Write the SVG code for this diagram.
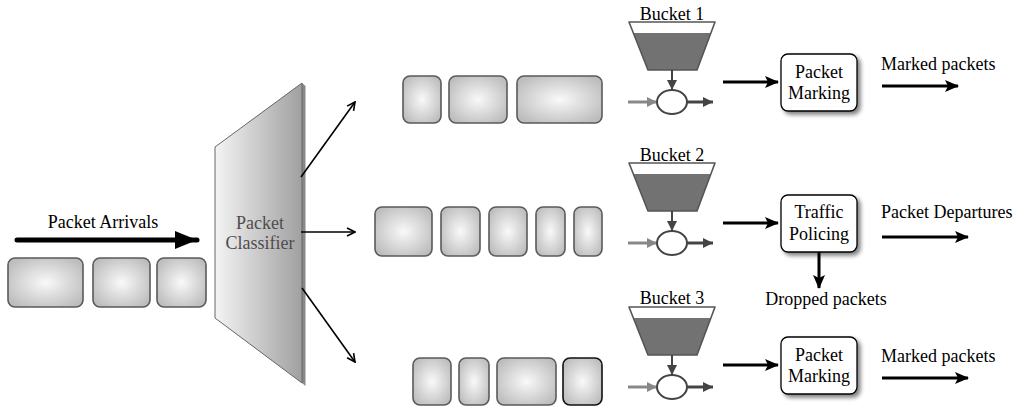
<svg xmlns="http://www.w3.org/2000/svg" width="1023" height="407" viewBox="0 0 1023 407">
<defs>
  <radialGradient id="pk" cx="0.5" cy="0.5" r="0.6">
    <stop offset="0" stop-color="#f9f9f9"/>
    <stop offset="1" stop-color="#bdbdbd"/>
  </radialGradient>
  <linearGradient id="cl" x1="0" y1="0" x2="1" y2="0">
    <stop offset="0" stop-color="#f4f4f4"/>
    <stop offset="1" stop-color="#a0a0a0"/>
  </linearGradient>
  <filter id="sh" x="-20%" y="-20%" width="150%" height="150%">
    <feGaussianBlur in="SourceAlpha" stdDeviation="2"/>
    <feOffset dx="3" dy="3" result="b"/>
    <feComponentTransfer><feFuncA type="linear" slope="0.5"/></feComponentTransfer>
    <feMerge><feMergeNode/><feMergeNode in="SourceGraphic"/></feMerge>
  </filter>
  <marker id="open" viewBox="0 0 10 10" refX="9" refY="5" markerWidth="10" markerHeight="10" markerUnits="userSpaceOnUse" orient="auto">
    <path d="M1,1 L9,5 L1,9" fill="none" stroke="#000" stroke-width="1.6"/>
  </marker>
  <marker id="solid" viewBox="0 0 14 12" refX="13" refY="6" markerWidth="14" markerHeight="12" markerUnits="userSpaceOnUse" orient="auto">
    <path d="M0,0 L14,6 L0,12 L3,6 Z" fill="#000"/>
  </marker>
  <marker id="big" viewBox="0 0 22 18" refX="22" refY="9" markerWidth="22" markerHeight="18" markerUnits="userSpaceOnUse" orient="auto">
    <path d="M0,0 L22,9 L0,18 Z" fill="#000"/>
  </marker>
  <marker id="sdk" viewBox="0 0 10 10" refX="10" refY="5" markerWidth="10" markerHeight="10" markerUnits="userSpaceOnUse" orient="auto">
    <path d="M0,0 L10,5 L0,10 Z" fill="#444"/>
  </marker>
  <marker id="sgr" viewBox="0 0 10 10" refX="10" refY="5" markerWidth="10" markerHeight="10" markerUnits="userSpaceOnUse" orient="auto">
    <path d="M0,0 L10,5 L0,10 Z" fill="#888"/>
  </marker>
  <g id="bucket">
    <polygon points="633.4,33 710.9,33 697,70 648,70" fill="#727272"/>
    <polygon points="629,22 648,70 697,70 715,22" fill="none" stroke="#555" stroke-width="1.6" stroke-linejoin="round"/>
    <line x1="672" y1="70" x2="672" y2="90" stroke="#444" stroke-width="2" marker-end="url(#sdk)"/>
    <line x1="628" y1="102" x2="657" y2="102" stroke="#888" stroke-width="3" marker-end="url(#sgr)"/>
    <line x1="687" y1="102" x2="713" y2="102" stroke="#444" stroke-width="3" marker-end="url(#sdk)"/>
    <ellipse cx="672" cy="102" rx="15" ry="12" fill="#fff" stroke="#444" stroke-width="2"/>
  </g>
</defs>
<style>
  text { font-family: "Liberation Serif", "Times New Roman", serif; font-size: 18px; fill: #000; }
  .pk { fill: url(#pk); stroke: #5a5a5a; stroke-width: 1.6; }
  .box { fill: #fff; stroke: #000; stroke-width: 1.3; }
  .mid { text-anchor: middle; }
  .cls { fill: #4d4d4d; text-anchor: middle; }
  .thick { stroke: #000; stroke-width: 3; fill: none; }
  .thin { stroke: #000; stroke-width: 1.6; fill: none; }
</style>

<g id="arrivals">
  <text x="103" y="228" class="mid">Packet Arrivals</text>
  <rect class="pk" x="8" y="258" width="75" height="49" rx="7"/>
  <rect class="pk" x="93" y="258" width="57" height="49" rx="7"/>
  <rect class="pk" x="157" y="258" width="49" height="49" rx="7"/>
</g>

<g id="classifier">
  <polygon points="302,83 305.5,86 305.5,386 302,383" fill="#888"/>
  <polygon points="302,83 215,147 215,318 302,383" fill="url(#cl)" stroke="#666" stroke-width="1"/>
  <text x="260" y="229" class="cls">Packet</text>
  <text x="260" y="249" class="cls">Classifier</text>
</g>

<g id="queue1">
  <rect class="pk" x="403" y="76" width="38" height="47" rx="7"/>
  <rect class="pk" x="449" y="76" width="58" height="47" rx="7"/>
  <rect class="pk" x="517" y="76" width="85" height="47" rx="7"/>
</g>
<g id="queue2">
  <rect class="pk" x="375" y="207" width="57" height="49" rx="7"/>
  <rect class="pk" x="441" y="207" width="39" height="49" rx="7"/>
  <rect class="pk" x="489" y="207" width="38" height="49" rx="7"/>
  <rect class="pk" x="536" y="207" width="29" height="49" rx="7"/>
  <rect class="pk" x="574" y="207" width="28" height="49" rx="7"/>
</g>
<g id="queue3">
  <rect class="pk" x="413" y="358" width="38" height="47" rx="7"/>
  <rect class="pk" x="459" y="358" width="30" height="47" rx="7"/>
  <rect class="pk" x="497" y="358" width="59" height="47" rx="7"/>
  <rect class="pk" x="563" y="358" width="39" height="47" rx="7" style="stroke:#111"/>
</g>

<g id="bucket1">
  <text x="672" y="20" class="mid">Bucket 1</text>
  <use href="#bucket"/>
</g>
<g id="bucket2">
  <text x="672" y="161" class="mid">Bucket 2</text>
  <use href="#bucket" transform="translate(0,141)"/>
</g>
<g id="bucket3">
  <text x="672" y="304" class="mid">Bucket 3</text>
  <use href="#bucket" transform="translate(0,285)"/>
</g>

<g id="marking1">
  <rect class="box" x="781" y="54" width="76" height="57" rx="7" filter="url(#sh)"/>
  <text x="819" y="78" class="mid">Packet</text>
  <text x="819" y="99" class="mid">Marking</text>
</g>
<g id="policing">
  <rect class="box" x="781" y="195" width="76" height="57" rx="7" filter="url(#sh)"/>
  <text x="819" y="218" class="mid">Traffic</text>
  <text x="819" y="240" class="mid">Policing</text>
</g>
<g id="marking3">
  <rect class="box" x="781" y="337" width="76" height="57" rx="7" filter="url(#sh)"/>
  <text x="819" y="361" class="mid">Packet</text>
  <text x="819" y="382" class="mid">Marking</text>
</g>

<g id="labels">
  <text x="881" y="70">Marked packets</text>
  <text x="881" y="218">Packet Departures</text>
  <text x="826" y="305" class="mid">Dropped packets</text>
  <text x="881" y="362">Marked packets</text>
</g>

<g id="connectors">
  <line x1="17" y1="240" x2="197" y2="240" stroke="#000" stroke-width="5" stroke-linecap="round" marker-end="url(#big)"/>
  <line class="thin" x1="301" y1="177" x2="355" y2="102" marker-end="url(#open)"/>
  <line class="thin" x1="301" y1="232" x2="355" y2="232" marker-end="url(#open)"/>
  <line class="thin" x1="302" y1="288" x2="355" y2="362" marker-end="url(#open)"/>
  <line class="thick" x1="723" y1="82" x2="778" y2="82" marker-end="url(#solid)"/>
  <line class="thick" x1="723" y1="223" x2="778" y2="223" marker-end="url(#solid)"/>
  <line class="thick" x1="723" y1="365" x2="778" y2="365" marker-end="url(#solid)"/>
  <line class="thick" x1="882" y1="86" x2="958" y2="86" marker-end="url(#solid)"/>
  <line class="thick" x1="882" y1="237" x2="968" y2="237" marker-end="url(#solid)"/>
  <line class="thick" x1="882" y1="378" x2="968" y2="378" marker-end="url(#solid)"/>
  <line class="thick" x1="819" y1="252" x2="819" y2="288" marker-end="url(#solid)"/>
</g>
</svg>
